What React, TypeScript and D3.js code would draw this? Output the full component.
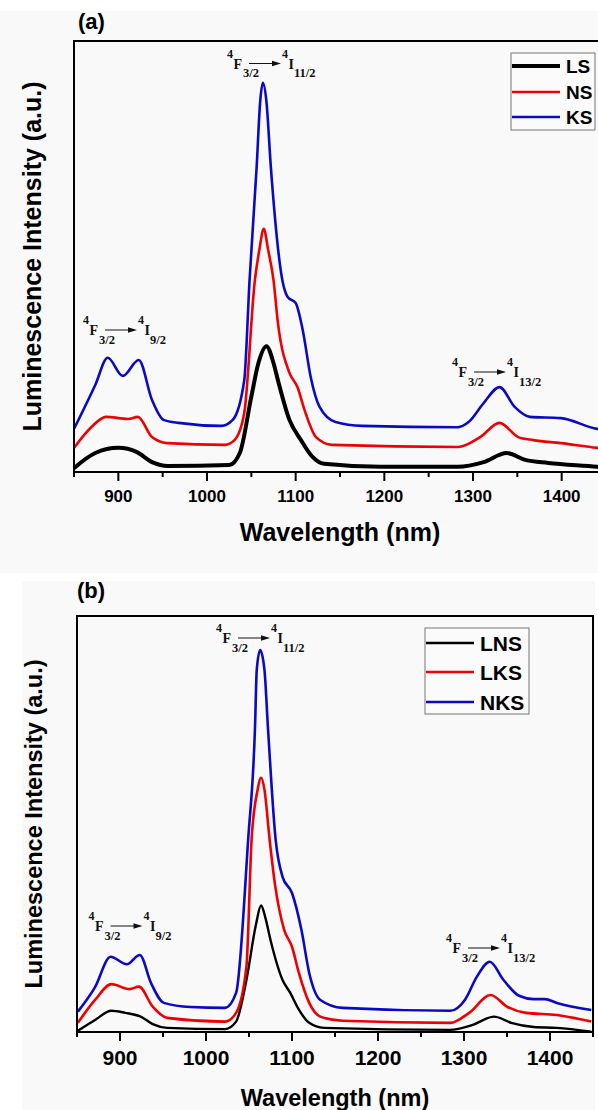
import React from "react";
import * as d3 from "d3";

type Pt = [number, number];

// panel (a): wavelength (nm), intensity (a.u., 0-100 of the frame height)
const lsA: Pt[] = [
  [850, 0.9], [874, 4.4], [900, 5.6], [921, 4.6], [938, 2.3], [956, 1.4],
  [1025, 1.6], [1037, 4.4], [1050, 17.5], [1058, 25.3], [1067, 29.2],
  [1075, 25.3], [1080, 21.3], [1093, 12.1], [1106, 7.4], [1119, 3.5],
  [1132, 1.9], [1196, 1.2], [1283, 1.2], [1312, 2.3], [1338, 4.4],
  [1359, 2.8], [1385, 2.1], [1440, 1.2], [1455, 0.9],
];
const nsA: Pt[] = [
  [850, 5.6], [870, 10.5], [886, 12.8], [911, 12.3], [922, 12.8], [938, 8.1],
  [955, 6.7], [1020, 6.3], [1031, 7.4], [1042, 13.7], [1054, 44.5],
  [1059, 51.5], [1064, 56.4], [1069, 51.5], [1075, 44.5], [1080, 34.6],
  [1093, 23.0], [1102, 19.7], [1110, 14.4], [1123, 8.1], [1141, 6.3],
  [1283, 5.8], [1308, 8.1], [1330, 11.4], [1351, 8.1], [1368, 7.4],
  [1399, 6.7], [1440, 5.6], [1455, 5.3],
];
const ksA: Pt[] = [
  [850, 10.0], [874, 20.2], [888, 26.5], [905, 22.3], [923, 26.0], [938, 16.7],
  [951, 12.1], [968, 11.4], [1016, 10.7], [1029, 12.1], [1042, 21.3],
  [1048, 44.5], [1056, 70.8], [1060, 86.0], [1063, 90.3], [1067, 86.0],
  [1072, 70.8], [1085, 44.5], [1091, 40.6], [1100, 39.2], [1108, 32.9],
  [1117, 22.0], [1127, 15.1], [1145, 11.6], [1175, 10.7], [1283, 10.4],
  [1295, 11.6], [1312, 16.0], [1330, 19.7], [1347, 15.1], [1364, 12.8],
  [1399, 12.5], [1440, 10.0], [1455, 9.7],
];

// panel (b)
const lnsB: Pt[] = [
  [851, 0.3], [871, 2.9], [890, 5.1], [906, 4.6], [924, 3.7], [938, 1.9],
  [955, 1.0], [1022, 0.7], [1035, 2.5], [1047, 12.5], [1058, 25.7],
  [1064, 30.4], [1069, 27.5], [1075, 22.1], [1089, 12.5], [1098, 9.4],
  [1106, 6.1], [1120, 2.2], [1137, 1.0], [1284, 0.5], [1310, 1.7],
  [1335, 3.7], [1355, 2.2], [1381, 1.2], [1408, 1.0], [1448, 0.1],
];
const lksB: Pt[] = [
  [851, 2.2], [871, 7.7], [890, 11.5], [911, 10.3], [922, 10.9], [938, 6.1],
  [955, 3.4], [1022, 2.5], [1035, 4.6], [1047, 15.7], [1053, 46.2],
  [1060, 58.2], [1064, 61.1], [1068, 58.2], [1074, 46.2], [1080, 35.8],
  [1091, 24.5], [1100, 20.5], [1108, 14.2], [1120, 7.0], [1133, 3.7],
  [1159, 2.7], [1284, 2.2], [1306, 4.6], [1331, 8.9], [1350, 6.1],
  [1372, 4.6], [1408, 4.1], [1448, 2.5],
];
const nksB: Pt[] = [
  [851, 4.9], [871, 10.8], [889, 18.1], [908, 16.3], [923, 18.5], [936, 11.8],
  [951, 7.0], [982, 6.0], [1022, 5.8], [1035, 9.4], [1049, 46.2],
  [1057, 73.3], [1059, 87.0], [1063, 91.8], [1068, 87.0], [1072, 73.3],
  [1081, 46.2], [1089, 37.3], [1100, 33.4], [1111, 24.5], [1120, 14.2],
  [1133, 7.7], [1159, 5.8], [1284, 5.1], [1301, 7.7], [1315, 13.3],
  [1330, 16.9], [1346, 12.5], [1364, 8.7], [1381, 7.9], [1394, 7.9],
  [1408, 7.0], [1448, 5.3],
];

const majorTicks = [900, 1000, 1100, 1200, 1300, 1400];
const minorTicks = [850, 950, 1050, 1150, 1250, 1350, 1450];
const namesA = ["LS", "NS", "KS"];
const namesB = ["LNS", "LKS", "NKS"];
const colors = ["#000000", "#ee0000", "#0a0ac4"];

const SANS = "Liberation Sans, Arial, sans-serif";
const SERIF = "Liberation Serif, Times New Roman, serif";

const Note = ({ x, y, level }: { x: number; y: number; level: string }) => (
  <g fontFamily={SERIF} fontWeight="bold" fill="#111">
    <text x={x} y={y - 11} fontSize={12}>4</text>
    <text x={x + 6.5} y={y} fontSize={14}>F</text>
    <text x={x + 16} y={y + 8.5} fontSize={12.5}>3/2</text>
    <line x1={x + 22} x2={x + 46} y1={y - 5} y2={y - 5} stroke="#111" strokeWidth={1} />
    <path d={`M${x + 45},${y - 7.8}L${x + 54},${y - 5}L${x + 45},${y - 2.2}Z`} />
    <text x={x + 55} y={y - 11} fontSize={12}>4</text>
    <text x={x + 61.5} y={y} fontSize={14}>I</text>
    <text x={x + 67} y={y + 8.5} fontSize={12.5}>{level}</text>
  </g>
);

const Panel = ({ box, series, names, widths, legend, notes, font }: any) => {
  const x = d3.scaleLinear().domain([850, 1450]).range([box.left, box.right]);
  const y = d3.scaleLinear().domain([0, 100]).range([box.bottom, box.top]);
  const line = d3
    .line<Pt>()
    .x((d) => x(d[0]))
    .y((d) => y(d[1]))
    .curve(d3.curveMonotoneX);
  const cx = (box.left + box.right) / 2;
  const cy = (box.top + box.bottom) / 2;
  return (
    <g>
      {series.map((s: Pt[], i: number) => (
        <path key={i} d={line(s) || ""} fill="none" stroke={colors[i]} strokeWidth={widths[i]} strokeLinejoin="round" />
      ))}
      <rect x={box.left} y={box.top} width={box.right - box.left} height={box.bottom - box.top} fill="none" stroke="#000" strokeWidth={2} />
      {majorTicks.map((t) => (
        <g key={t}>
          <line x1={x(t)} x2={x(t)} y1={box.bottom} y2={box.bottom + 9} stroke="#000" strokeWidth={2} />
          <text x={x(t)} y={font.tickY} textAnchor="middle" fontFamily={SANS} fontWeight="bold" fontSize={font.tick}>{t}</text>
        </g>
      ))}
      {minorTicks.map((t) => (
        <line key={t} x1={x(t)} x2={x(t)} y1={box.bottom} y2={box.bottom + 5} stroke="#000" strokeWidth={2} />
      ))}
      <text x={cx} y={font.xLabelY} textAnchor="middle" fontFamily={SANS} fontWeight="bold" fontSize={font.label}>Wavelength (nm)</text>
      <text transform={`translate(${font.yLabelX},${cy}) rotate(-90)`} textAnchor="middle" fontFamily={SANS} fontWeight="bold" fontSize={font.label}>Luminescence Intensity (a.u.)</text>
      <text x={font.tagX} y={font.tagY} fontFamily={SANS} fontWeight="bold" fontSize={22}>{font.tag}</text>
      <g>
        <rect x={legend.x} y={legend.y} width={legend.w} height={legend.h} fill="#fbfbfb" stroke="#777" strokeWidth={1} />
        {names.map((n: string, i: number) => (
          <g key={n}>
            <line x1={legend.x + 1} x2={legend.x + 49} y1={legend.rows[i]} y2={legend.rows[i]} stroke={colors[i]} strokeWidth={widths[i]} />
            <text x={legend.x + 55} y={legend.rows[i] + legend.size * 0.37} fontFamily={SANS} fontWeight="bold" fontSize={legend.size}>{n}</text>
          </g>
        ))}
      </g>
      {notes.map((n: any, i: number) => (
        <Note key={i} x={n.x} y={n.y} level={n.level} />
      ))}
    </g>
  );
};

export default function App() {
  return (
    <svg width={598} height={1110} style={{ position: "absolute", left: 0, top: 0 }}>
      <rect x={0} y={0} width={598} height={1110} fill="#fff" />
      <rect x={0} y={11} width={598} height={562} fill="#f9f9f9" />
      <rect x={22} y={581} width={573} height={529} fill="#f9f9f9" />
      <Panel
        box={{ left: 74, right: 606, top: 41, bottom: 472 }}
        series={[lsA, nsA, ksA]}
        names={namesA}
        widths={[4, 2.6, 2.6]}
        legend={{ x: 511, y: 53, w: 84, h: 77, rows: [66, 92, 117], size: 19 }}
        notes={[
          { x: 227, y: 68.5, level: "11/2" },
          { x: 83, y: 335, level: "9/2" },
          { x: 452, y: 377, level: "13/2" },
        ]}
        font={{ tick: 17, tickY: 502, label: 25, xLabelY: 541, yLabelX: 41, tag: "(a)", tagX: 78, tagY: 29 }}
      />
      <Panel
        box={{ left: 77, right: 593, top: 616, bottom: 1032 }}
        series={[lnsB, lksB, nksB]}
        names={namesB}
        widths={[2.4, 2.6, 2.6]}
        legend={{ x: 425, y: 628, w: 104, h: 86, rows: [643, 672, 702], size: 21 }}
        notes={[
          { x: 216, y: 643, level: "11/2" },
          { x: 88.5, y: 931, level: "9/2" },
          { x: 446, y: 953, level: "13/2" },
        ]}
        font={{ tick: 21, tickY: 1065, label: 23.5, xLabelY: 1106, yLabelX: 42, tag: "(b)", tagX: 77, tagY: 598 }}
      />
    </svg>
  );
}
